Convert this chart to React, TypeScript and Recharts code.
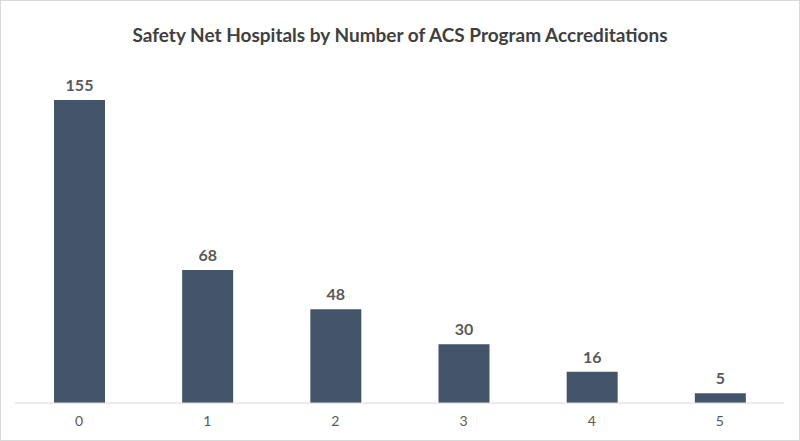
import { BarChart, Bar, XAxis, YAxis, LabelList } from "recharts";

const accreditations = ["0", "1", "2", "3", "4", "5"];
const hospitals = [155, 68, 48, 30, 16, 5];

const data = accreditations.map((a, i) => ({ label: a, value: hospitals[i] }));

export default function App() {
  return (
    <div
      style={{
        position: "absolute",
        left: 0,
        top: 0,
        width: 798,
        height: 439,
        border: "1px solid #d9d9d9",
        background: "#fff",
        fontFamily: "Lato, 'Open Sans', sans-serif",
      }}
    >
      <div
        style={{
          position: "absolute",
          top: 22,
          width: "100%",
          textAlign: "center",
          fontSize: 19,
          fontWeight: 700,
          color: "#404040",
        }}
      >
        Safety Net Hospitals by Number of ACS Program Accreditations
      </div>
      <BarChart
        width={798}
        height={439}
        data={data}
        margin={{ top: 50, right: 15, bottom: 0, left: 14 }}
        barCategoryGap="30%"
      >
        <XAxis
          dataKey="label"
          height={37}
          tickLine={false}
          tickSize={0}
          tickMargin={13}
          axisLine={{ stroke: "#d9d9d9" }}
          tick={{ fontSize: 14, fill: "#595959" }}
        />
        <YAxis hide domain={[0, 180]} />
        <Bar dataKey="value" fill="#44546a" isAnimationActive={false} barSize={51}>
          <LabelList
            dataKey="value"
            position="top"
            offset={9}
            style={{ fontSize: 16, fontWeight: 700, fill: "#595959" }}
          />
        </Bar>
      </BarChart>
    </div>
  );
}
